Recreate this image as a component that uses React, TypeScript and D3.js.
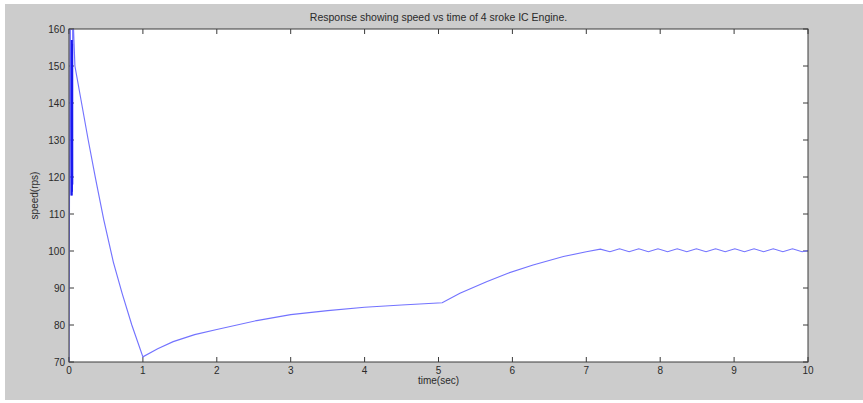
import React from "react";
import * as d3 from "d3";

const title = "Response showing speed vs time of 4 sroke IC Engine.";
const xLabel = "time(sec)";
const yLabel = "speed(rps)";
const xTicks = [0, 1, 2, 3, 4, 5, 6, 7, 8, 9, 10];
const yTicks = [70, 80, 90, 100, 110, 120, 130, 140, 150, 160];

// initial transient (dense oscillation near t=0)
const transientT = [0, 0.015, 0.03, 0.034, 0.036, 0.038, 0.04, 0.042, 0.044, 0.046, 0.048, 0.05];
const transientV = [70, 172, 115, 157, 115, 157, 115, 157, 116, 156, 118, 166];

// main response
const timeSec = [
  0.08, 0.17, 0.26, 0.36, 0.47, 0.6, 0.72, 0.85, 1.0,
  1.2, 1.41, 1.7, 2.0, 2.54, 3.0, 3.5, 4.0, 4.5, 5.05,
  5.29, 5.65, 5.94, 6.28, 6.69, 7.0, 7.19,
  7.32, 7.45, 7.58, 7.71, 7.84, 7.97, 8.1, 8.23, 8.36, 8.49, 8.62,
  8.75, 8.88, 9.01, 9.14, 9.27, 9.4, 9.53, 9.66, 9.79, 9.92, 10.0,
];
const speedRps = [
  150, 140, 130, 119.5, 108.5, 97, 88.5, 80, 71.4,
  73.6, 75.5, 77.4, 78.8, 81.2, 82.8, 83.9, 84.8, 85.4, 86.0,
  88.6, 91.7, 94.0, 96.2, 98.5, 99.8, 100.5,
  99.8, 100.6, 99.8, 100.6, 99.8, 100.6, 99.8, 100.6, 99.8, 100.6, 99.8,
  100.6, 99.8, 100.6, 99.8, 100.6, 99.8, 100.6, 99.8, 100.6, 99.8, 100.1,
];

const W = 863;
const H = 403;
const L = 69, R = 808, T = 29, B = 362;
const font = "'Liberation Sans', Arial, Helvetica, sans-serif";

export default function App() {
  const x = d3.scaleLinear().domain([0, 10]).range([L, R]);
  const y = d3.scaleLinear().domain([70, 160]).range([B, T]);
  const line = d3
    .line<[number, number]>()
    .x((d) => x(d[0]))
    .y((d) => y(d[1]));
  const transient: [number, number][] = transientT.map((t, i) => [t, transientV[i]]);
  const main: [number, number][] = timeSec.map((t, i) => [t, speedRps[i]]);
  const all = transient.concat(main);
  const tickLen = 5;
  const axisColor = "#3a3a3a";
  const textColor = "#2a2a2a";

  return (
    <svg
      width={W}
      height={H}
      style={{ position: "absolute", left: 0, top: 0, display: "block" }}
    >
      <rect x={0} y={0} width={W} height={H} fill="#ffffff" />
      <rect x={5} y={4} width={W - 5} height={396} fill="#cccccc" />
      <rect x={L} y={T} width={R - L} height={B - T} fill="#ffffff" />
      <defs>
        <clipPath id="plotclip">
          <rect x={L} y={T} width={R - L} height={B - T} />
        </clipPath>
      </defs>

      <text
        x={(L + R) / 2}
        y={21}
        textAnchor="middle"
        fontFamily={font}
        fontSize={10.5}
        fill={textColor}
      >
        {title}
      </text>

      {/* ticks */}
      {xTicks.map((t) => (
        <g key={"xt" + t}>
          <line x1={x(t)} x2={x(t)} y1={B} y2={B - tickLen} stroke={axisColor} strokeWidth={1} />
          <line x1={x(t)} x2={x(t)} y1={T} y2={T + tickLen} stroke={axisColor} strokeWidth={1} />
          <text
            x={x(t)}
            y={374}
            textAnchor="middle"
            fontFamily={font}
            fontSize={10}
            fill={textColor}
          >
            {t}
          </text>
        </g>
      ))}
      {yTicks.map((v) => (
        <g key={"yt" + v}>
          <line x1={L} x2={L + tickLen} y1={y(v)} y2={y(v)} stroke={axisColor} strokeWidth={1} />
          <line x1={R} x2={R - tickLen} y1={y(v)} y2={y(v)} stroke={axisColor} strokeWidth={1} />
          <text
            x={65}
            y={y(v) + 3.5}
            textAnchor="end"
            fontFamily={font}
            fontSize={10}
            fill={textColor}
          >
            {v}
          </text>
        </g>
      ))}

      {/* data */}
      <g clipPath="url(#plotclip)">
        <path d={line(all) ?? ""} fill="none" stroke="#7373ff" strokeWidth={1.15} />
        <path d={line(transient.slice(2, 11)) ?? ""} fill="none" stroke="#1a1aee" strokeWidth={1.4} />
      </g>

      {/* frame */}
      <rect x={L} y={T} width={R - L} height={B - T} fill="none" stroke={axisColor} strokeWidth={1} />

      <text
        x={(L + R) / 2}
        y={384}
        textAnchor="middle"
        fontFamily={font}
        fontSize={10}
        fill={textColor}
      >
        {xLabel}
      </text>
      <text
        transform={`translate(38, ${(T + B) / 2}) rotate(-90)`}
        textAnchor="middle"
        fontFamily={font}
        fontSize={10}
        fill={textColor}
      >
        {yLabel}
      </text>
    </svg>
  );
}
